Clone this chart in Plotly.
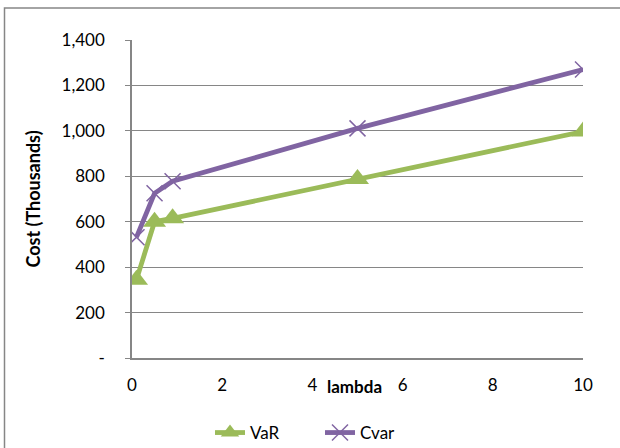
import plotly.graph_objects as go

lambda_vals = [0.1, 0.5, 0.9, 5, 10]
var_vals = [345, 600, 615, 788, 997]
cvar_vals = [532, 725, 778, 1011, 1270]
y_ticks = [0, 200, 400, 600, 800, 1000, 1200, 1400]
y_labels = ["-", "200", "400", "600", "800", "1,000", "1,200", "1,400"]
x_ticks = [0, 2, 4, 6, 8, 10]

FONT = "Lato, Carlito, Calibri, sans-serif"
FS = 17
L, R, T, B = 132, 583, 40, 358
W, H = 620, 448
pw, ph = R - L, B - T

fig = go.Figure()
fig.add_trace(go.Scatter(
    x=lambda_vals, y=var_vals, name="VaR", mode="lines+markers",
    line=dict(color="#9BBB59", width=4.8),
    marker=dict(symbol="triangle-up", size=20, color="#9BBB59"),
))
fig.add_trace(go.Scatter(
    x=lambda_vals, y=cvar_vals, name="Cvar", mode="lines+markers",
    line=dict(color="#8064A2", width=4.8),
    marker=dict(symbol="x-thin", size=16, color="#8064A2",
                line=dict(color="#8064A2", width=1.5)),
))

fig.update_layout(
    width=W, height=H,
    margin=dict(l=L, r=W - R, t=T, b=H - B, autoexpand=False),
    paper_bgcolor="white", plot_bgcolor="white",
    font=dict(family=FONT, size=FS, color="black"),
    showlegend=True,
    legend=dict(orientation="h", x=(210 - L) / pw, xanchor="left",
                y=(B - 415) / ph, yanchor="top",
                entrywidth=65, entrywidthmode="pixels",
                font=dict(size=FS)),
    xaxis=dict(range=[0, 10], tickvals=x_ticks, showgrid=False, zeroline=False,
               showline=True, linecolor="#868686", linewidth=1.5, automargin=False,
               ticks="", ticklabelstandoff=11, tickfont=dict(size=FS)),
    yaxis=dict(range=[0, 1400], tickvals=y_ticks, ticktext=y_labels,
               showgrid=True, gridcolor="#868686", gridwidth=1.3, zeroline=False,
               showline=True, linecolor="#868686", linewidth=1.5, automargin=False,
               ticks="outside", ticklen=5, tickcolor="#868686",
               ticklabelstandoff=17, tickfont=dict(size=FS),
               title=dict(text="<b>Cost (Thousands)</b>", font=dict(size=18), standoff=16)),
    annotations=[dict(text="<b>lambda</b>", xref="paper", yref="paper",
                      x=(354 - L) / pw, y=(B - 386) / ph,
                      xanchor="center", yanchor="middle",
                      showarrow=False, font=dict(size=FS))],
)
fig.add_shape(type="rect", xref="paper", yref="paper",
              x0=(4.5 - L) / pw, x1=(640 - L) / pw,
              y0=(B - 470) / ph, y1=(B - 8) / ph,
              line=dict(color="#868686", width=1.5), layer="below")
fig.write_html("out.html", config={"displayModeBar": False},
               post_script="document.body.style.margin='0';")
